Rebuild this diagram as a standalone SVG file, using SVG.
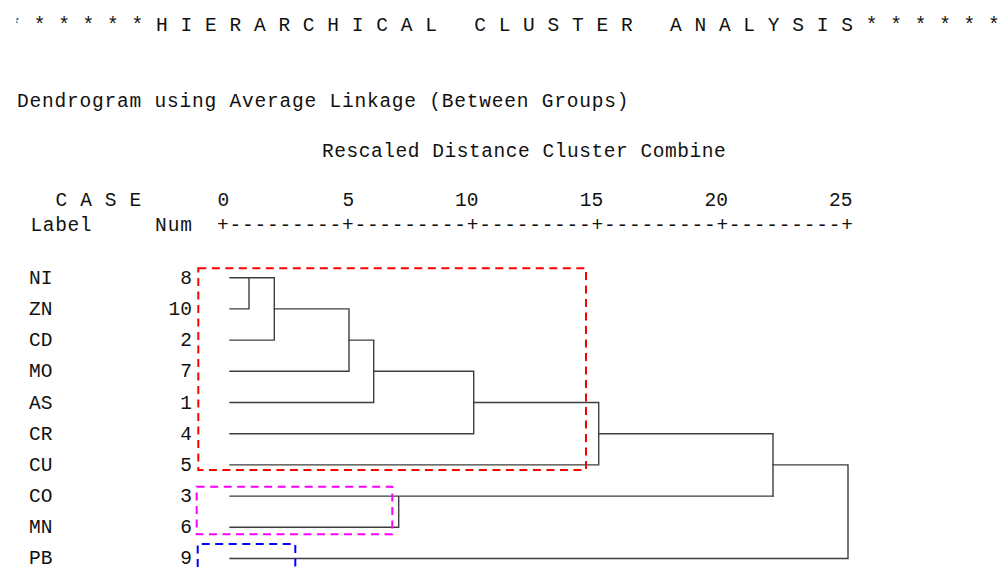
<svg xmlns="http://www.w3.org/2000/svg" width="1004" height="567" viewBox="0 0 1004 567">
<style>
text{font-family:"Liberation Mono","Courier New",monospace;font-size:19.5px;fill:#111;white-space:pre}
.num{text-anchor:end}
.ax{text-anchor:middle}
.ln{fill:none;stroke:#3e3e3e;stroke-width:1.4;stroke-linecap:square}
.box{fill:none;stroke-width:2;stroke-dasharray:8 5.5}
</style>
<defs>
<clipPath id="tclip"><rect x="16.5" y="0" width="990" height="60"/></clipPath>
</defs>
<rect width="1004" height="567" fill="#fff"/>
<g id="header">
<text x="9.2" y="31" textLength="990.6" lengthAdjust="spacing" clip-path="url(#tclip)" xml:space="preserve">* * * * * * H I E R A R C H I C A L   C L U S T E R   A N A L Y S I S * * * * * *</text>
<text x="17" y="107" textLength="611.5" lengthAdjust="spacing">Dendrogram using Average Linkage (Between Groups)</text>
<text x="322" y="157" textLength="403.6" lengthAdjust="spacing">Rescaled Distance Cluster Combine</text>
<text x="55.5" y="206" textLength="85.6" lengthAdjust="spacing" xml:space="preserve">C A S E</text>
<text x="30.5" y="231" textLength="61" lengthAdjust="spacing">Label</text>
<text x="155" y="231" textLength="37" lengthAdjust="spacing">Num</text>
</g>
<g id="axis">
<text class="ax" x="223.3" y="206">0</text>
<text class="ax" x="348.3" y="206">5</text>
<text class="ax" x="466.8" y="206">10</text>
<text class="ax" x="591.5" y="206">15</text>
<text class="ax" x="716.3" y="206">20</text>
<text class="ax" x="840.8" y="206">25</text>
<text x="217.1" y="231" textLength="635.8" lengthAdjust="spacing">+---------+---------+---------+---------+---------+</text>
</g>
<g id="leaf-NI"><text x="29" y="283.7">NI</text><text class="num" x="192" y="283.7">8</text></g>
<g id="leaf-ZN"><text x="29" y="314.9">ZN</text><text class="num" x="192" y="314.9">10</text></g>
<g id="leaf-CD"><text x="29" y="346.1">CD</text><text class="num" x="192" y="346.1">2</text></g>
<g id="leaf-MO"><text x="29" y="377.3">MO</text><text class="num" x="192" y="377.3">7</text></g>
<g id="leaf-AS"><text x="29" y="408.5">AS</text><text class="num" x="192" y="408.5">1</text></g>
<g id="leaf-CR"><text x="29" y="439.7">CR</text><text class="num" x="192" y="439.7">4</text></g>
<g id="leaf-CU"><text x="29" y="470.9">CU</text><text class="num" x="192" y="470.9">5</text></g>
<g id="leaf-CO"><text x="29" y="502.1">CO</text><text class="num" x="192" y="502.1">3</text></g>
<g id="leaf-MN"><text x="29" y="533.3">MN</text><text class="num" x="192" y="533.3">6</text></g>
<g id="leaf-PB"><text x="29" y="564.3">PB</text><text class="num" x="192" y="564.3">9</text></g>
<g id="connectors" class="ln">
<path class="ln" d="M230,277.7H274.3 M230,308.9H249 M249,277.7V308.9 M274.3,277.7V340.1 M230,340.1H274.3"/>
<path class="ln" d="M274.3,308.9H349 M349,308.9V371.3 M230,371.3H349"/>
<path class="ln" d="M349,340.1H373.7 M373.7,340.1V402.5 M230,402.5H373.7"/>
<path class="ln" d="M373.7,371.3H473.7 M473.7,371.3V433.7 M230,433.7H473.7"/>
<path class="ln" d="M473.7,402.5H598.7 M598.7,402.5V464.9 M230,464.9H598.7"/>
<path class="ln" d="M598.7,433.7H773 M773,433.7V496.1"/>
<path class="ln" d="M230,496.1H773 M230,527.3H398.7 M398.7,496.1V527.3"/>
<path class="ln" d="M773,464.9H848 M848,464.9V558.5 M230,558.5H848"/>
</g>
<g id="highlight-boxes">
<rect class="box" x="198.3" y="268.3" width="387.7" height="201.7" stroke="#ff0000"/>
<rect class="box" x="196.7" y="486.7" width="195.6" height="47.6" stroke="#ff00ff"/>
<path class="box" d="M197.7,567V544H295.3V567" stroke="#0000ff"/>
</g>
</svg>
